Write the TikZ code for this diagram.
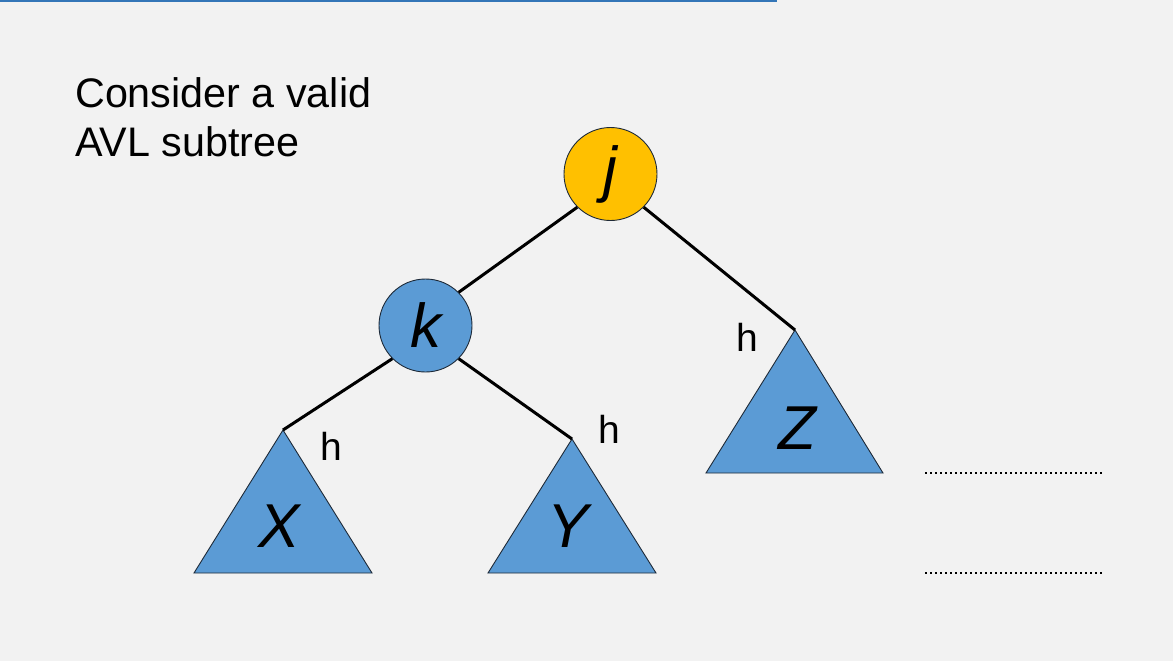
\documentclass[tikz,border=0pt]{standalone}
\usepackage{fontspec}
\setmainfont{Liberation Sans}
\definecolor{bg}{HTML}{F2F2F2}
\definecolor{gold}{HTML}{FFC000}
\definecolor{blu}{HTML}{5B9BD5}
\definecolor{topblue}{HTML}{3476B8}
\definecolor{rim}{HTML}{1E2A38}
\tikzset{
  treenode/.style={circle, draw=rim, line width=0.9pt, minimum size=93pt, inner sep=0pt, font=\fontsize{62}{62}\selectfont\itshape},
  subtree/.style={fill=blu, draw=rim, line width=0.9pt, line join=miter},
  edge/.style={line width=3pt, black},
  hlab/.style={anchor=base, font=\fontsize{39}{39}\selectfont, inner sep=0pt},
  tlab/.style={anchor=base, font=\fontsize{62}{62}\selectfont\itshape, inner sep=0pt},
  title/.style={anchor=base west, font=\fontsize{41.3}{41.3}\selectfont, inner sep=0pt},
  dotline/.style={line width=2.4pt, dash pattern=on 2.4pt off 2.6pt}
}
\begin{document}
\begin{tikzpicture}[x=1pt, y=-1pt]
\fill[bg] (0,0) rectangle (1173,661);
\useasboundingbox (0,0) rectangle (1173,661);
\coordinate (tl) at (0,1.2);
\coordinate (tr) at (777,1.2);
\draw[topblue, line width=2.4pt] (tl) -- (tr);

\node[title] (t1) at (75,107) {Consider a valid};
\node[title] (t2) at (75,156) {AVL subtree};

% subtrees
\coordinate (xa) at (283,430);
\coordinate (xl) at (194,573);
\coordinate (xr) at (372,573);
\coordinate (ya) at (572,439);
\coordinate (yl) at (488,573);
\coordinate (yr) at (656,573);
\coordinate (za) at (795,330);
\coordinate (zl) at (706,473);
\coordinate (zr) at (883,473);
\path[subtree] (xa) -- (xl) -- (xr) -- cycle;
\path[subtree] (ya) -- (yl) -- (yr) -- cycle;
\path[subtree] (za) -- (zl) -- (zr) -- cycle;
\node[tlab] (X) at (279,547) {X};
\node[tlab] (Y) at (568,547) {Y};
\node[tlab] (Z) at (797,449) {Z};

% tree nodes
\node[treenode, fill=gold] (j) at (610.5,174) {j};
\node[treenode, fill=blu] (k) at (425.5,325.5) {k};

% edges
\draw[edge] (j.south west) -- (k.north east);
\draw[edge] (j.south east) -- (za);
\draw[edge] (k.south west) -- (xa);
\draw[edge] (k.south east) -- (ya);

% heights
\node[hlab] (h1) at (331,460) {h};
\node[hlab] (h2) at (609,443) {h};
\node[hlab] (h3) at (747,351) {h};

% dotted lines
\coordinate (d1l) at (925,473);
\coordinate (d1r) at (1102,473);
\coordinate (d2l) at (925,573);
\coordinate (d2r) at (1102,573);
\draw[dotline] (d1l) -- (d1r);
\draw[dotline] (d2l) -- (d2r);
\end{tikzpicture}
\end{document}
